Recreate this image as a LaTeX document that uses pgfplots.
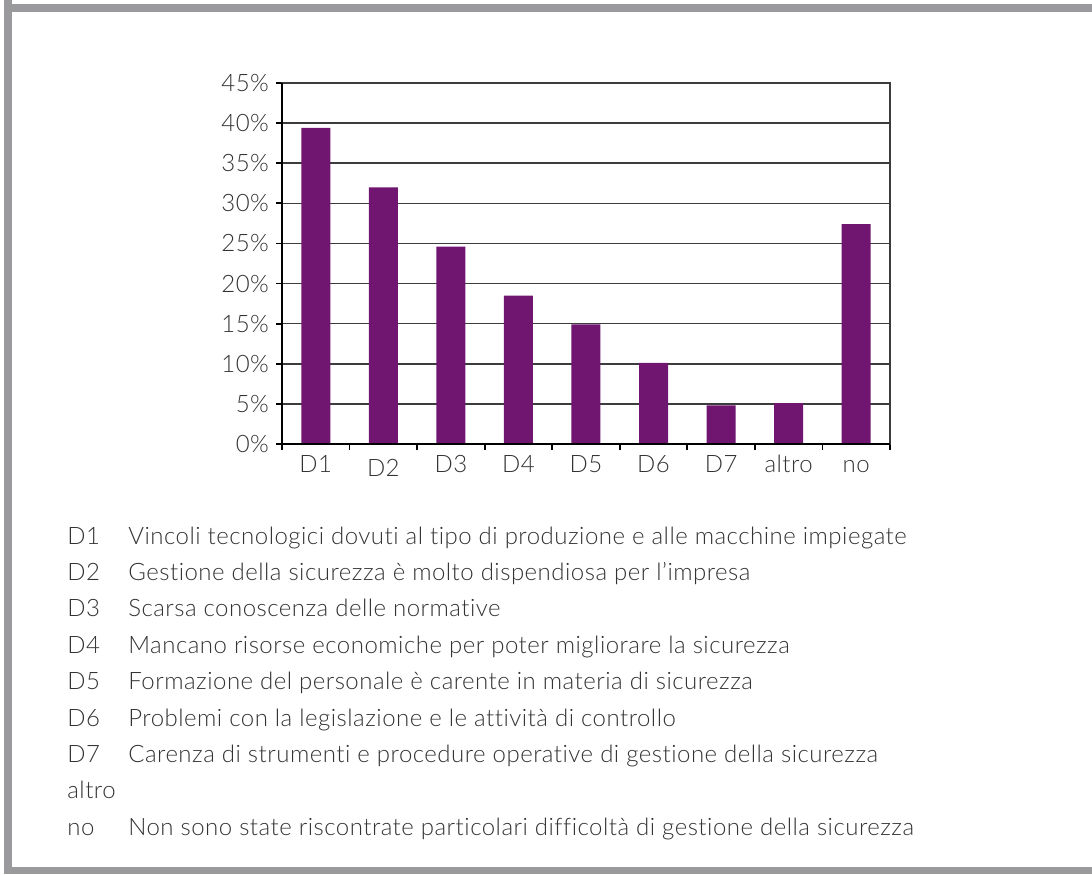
\documentclass[border=0pt]{standalone}
\usepackage{fontspec}
\setmainfont{Lato}[UprightFont=* Light, LetterSpace=2.0, Ligatures={NoCommon,NoRare}]
\usepackage{pgfplots}
\pgfplotsset{compat=1.18}

\definecolor{barpurple}{RGB}{112,21,112}
\definecolor{framegray}{RGB}{154,154,156}
\definecolor{gridgray}{RGB}{60,60,60}

\begin{document}
\begin{tikzpicture}[x=0.5pt,y=0.5pt]
  % page area and frame (left, top and bottom rules)
  \path (0,0) rectangle (1092,874);
  \fill[framegray] (4,874) rectangle (12,0);
  \fill[framegray] (4,870) rectangle (1092,862);
  \fill[framegray] (4,0) rectangle (1092,7);

  \begin{axis}[
    at={(141pt,215pt)}, anchor=south west,
    scale only axis, width=304pt, height=180.5pt,
    xmin=-0.5, xmax=8.5, ymin=0, ymax=45,
    ybar, bar width=14.5pt,
    xtick={-0.5,0.5,...,8.5},
    xticklabels={},
    extra x ticks={0,...,8},
    extra x tick labels={D1,{\raisebox{-2pt}{D2}},D3,D4,D5,D6,D7,altro,no},
    extra x tick style={major tick length=0pt},
    xtick pos=bottom, ytick pos=left,
    tick align=outside,
    major tick length=3pt,
    tick style={black, line width=0.9pt},
    ytick={0,5,...,45},
    yticklabel={\pgfmathprintnumber{\tick}\%},
    ymajorgrids,
    grid style={gridgray, line width=0.8pt},
    axis line style={gridgray, line width=0.8pt},
    ticklabel style={font=\fontsize{12}{14}\selectfont, text=black!80},
    /pgf/number format/assume math mode=true,
    xticklabel style={yshift=-2pt, text height=8.6pt, text depth=2pt},
    clip=false,
  ]
    \addplot[fill=barpurple, draw=none] coordinates {
      (0,39.4) (1,32.0) (2,24.6) (3,18.5) (4,14.9)
      (5,10.1) (6,4.8) (7,5.1) (8,27.4)
    };
    \draw[black, line width=1.3pt] (rel axis cs:0,1) -- (rel axis cs:0,0) -- (rel axis cs:1,0);
  \end{axis}

  % key to the categories
  \foreach \code/\desc [count=\i from 0] in {
    D1/{Vincoli tecnologici dovuti al tipo di produzione e alle macchine impiegate},
    D2/{Gestione della sicurezza è molto dispendiosa per l’impresa},
    D3/{Scarsa conoscenza delle normative},
    D4/{Mancano risorse economiche per poter migliorare la sicurezza},
    D5/{Formazione del personale è carente in materia di sicurezza},
    D6/{Problemi con la legislazione e le attività di controllo},
    D7/{Carenza di strumenti e procedure operative di gestione della sicurezza},
    altro/{},
    no/{Non sono state riscontrate particolari difficoltà di gestione della sicurezza}} {
    \node[anchor=base west, inner sep=0pt, font=\fontsize{12}{14}\selectfont, text=black!80]
      at (67, 874-544-36.4*\i) {\code};
    \node[anchor=base west, inner sep=0pt, font=\fontsize{12}{14}\selectfont, text=black!80]
      at (128, 874-544-36.4*\i) {\desc};
  }
\end{tikzpicture}
\end{document}
